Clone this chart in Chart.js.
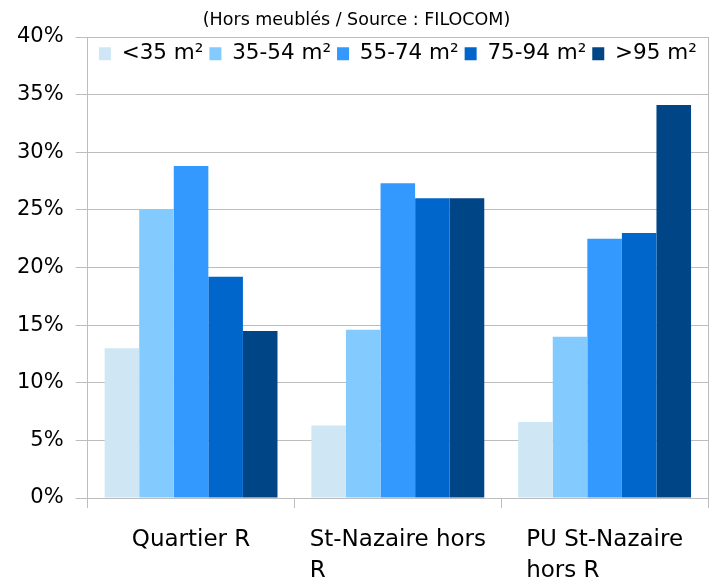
<!DOCTYPE html>
<html lang="fr">
<head>
<meta charset="utf-8">
<title>Résidences principales par surface</title>
<script src="https://cdn.jsdelivr.net/npm/chart.js@4.4.2/dist/chart.umd.min.js"></script>
<style>
    html, body { margin: 0; padding: 0; background: #ffffff; }
    #wrap { width: 715px; height: 578px; position: relative; }
</style>
</head>
<body>
<div id="wrap"><canvas id="surfaceChart"></canvas></div>
<script>
// Territoires comparés (libellés sur deux lignes si besoin)
const territoires = [["Quartier R"], ["St-Nazaire hors", "R"], ["PU St-Nazaire", "hors R"]];

// Classes de surface
const classesSurface = ["<35 m²", "35-54 m²", "55-74 m²", "75-94 m²", ">95 m²"];

// Part des logements par classe (%)
const partMoins35 = [13.0, 6.3, 6.6];
const part35a54 = [25.0, 14.6, 14.0];
const part55a74 = [28.8, 27.3, 22.5];
const part75a94 = [19.2, 26.0, 23.0];
const partPlus95 = [14.5, 26.0, 34.1];

// Graduations de l'axe des %
const yMin = 0;
const yMax = 40;
const yPas = 5;

const couleurs = ["#cfe7f5", "#83caff", "#3399ff", "#0066cc", "#004586"];
const gris = "#bdbdbd";

Chart.defaults.font.family = "'DejaVu Sans', sans-serif";
Chart.defaults.color = "#000000";

// La légende est dessinée dans la zone du graphique : on ne lui réserve aucune
// hauteur au calcul de la mise en page, puis on lui rend sa vraie hauteur
// pour qu'elle ne soit pas rognée au dessin.
const legendeInterne = {
    id: "legendeInterne",
    beforeInit(chart) {
        const legend = chart.legend;
        const fitOrig = legend.fit;
        legend.fit = function () {
            fitOrig.call(this);
            this.hauteurReelle = this.height;
            this.height = 0;
        };
    },
    afterLayout(chart) {
        const legend = chart.legend;
        legend.height = legend.hauteurReelle || 40;
        legend.bottom = legend.top + legend.height;
    }
};

// Libellés des territoires : lignes alignées à gauche, bloc centré sous chaque groupe
const libellesX = {
    id: "libellesX",
    afterDraw(chart) {
        const ctx = chart.ctx;
        const xScale = chart.scales.x;
        const bas = chart.chartArea.bottom;
        ctx.save();
        ctx.font = "23px 'DejaVu Sans', sans-serif";
        ctx.fillStyle = "#000000";
        ctx.textAlign = "left";
        ctx.textBaseline = "alphabetic";
        territoires.forEach((lignes, i) => {
            const centre = xScale.getPixelForValue(i);
            const largeur = Math.max(...lignes.map(l => ctx.measureText(l).width));
            const x0 = centre - largeur / 2;
            lignes.forEach((ligne, j) => {
                ctx.fillText(ligne, x0, bas + 48 + j * 31);
            });
        });
        ctx.restore();
    }
};

const series = [partMoins35, part35a54, part55a74, part75a94, partPlus95];

new Chart(document.getElementById("surfaceChart"), {
    type: "bar",
    data: {
        labels: territoires.map(t => t.join(" ")),
        datasets: classesSurface.map((nom, i) => ({
            label: nom,
            data: series[i],
            backgroundColor: couleurs[i],
            borderWidth: 0,
            categoryPercentage: 0.836,
            barPercentage: 1.0
        }))
    },
    options: {
        responsive: true,
        maintainAspectRatio: false,
        animation: false,
        layout: { padding: { left: 5, right: 7, top: 0, bottom: 70 } },
        plugins: {
            title: {
                display: true,
                text: "(Hors meublés / Source : FILOCOM)",
                font: { size: 17.5, weight: "normal" },
                color: "#000000",
                padding: { top: 10, bottom: 6 }
            },
            legend: {
                display: true,
                position: "top",
                fullSize: false,
                align: "center",
                labels: {
                    boxWidth: 12,
                    boxHeight: 13,
                    padding: 6,
                    font: { size: 21.5 },
                    color: "#000000"
                }
            },
            tooltip: { enabled: false }
        },
        scales: {
            x: {
                offset: true,
                ticks: { display: false },
                grid: {
                    offset: true,
                    drawOnChartArea: true,
                    // seule la ligne de fermeture à droite est tracée dans la zone
                    color: ctx => ctx.type === "tick" ? "rgba(0,0,0,0)" : gris,
                    tickColor: gris,
                    tickLength: 10
                },
                border: { display: true, color: gris }
            },
            y: {
                min: yMin,
                max: yMax,
                ticks: {
                    stepSize: yPas,
                    padding: 12,
                    font: { size: 21 },
                    color: "#000000",
                    callback: v => v + "%"
                },
                grid: { color: gris, tickLength: 12 },
                border: { display: true, color: gris }
            }
        }
    },
    plugins: [legendeInterne, libellesX]
});
</script>
</body>
</html>
